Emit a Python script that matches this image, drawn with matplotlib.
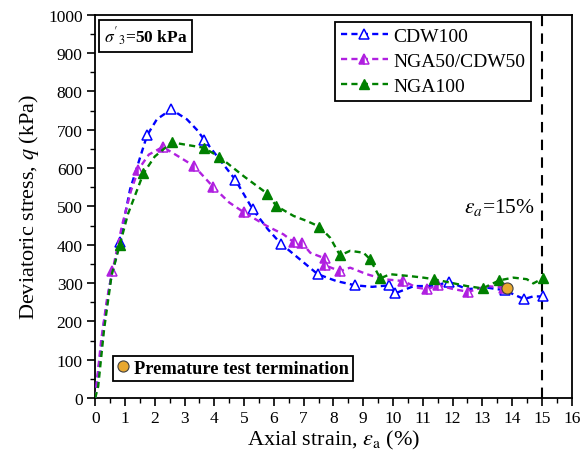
import matplotlib
matplotlib.use("Agg")
import matplotlib.pyplot as plt
from matplotlib.ticker import MultipleLocator

plt.rcParams['font.family'] = ['Liberation Serif', 'DejaVu Serif']
plt.rcParams['mathtext.fontset'] = 'stix'

# ---- data ----
cdw_x = [0, 0.15, 0.3, 0.5, 0.82, 1.17, 1.74, 2.07, 2.55, 3.08, 3.41, 3.67, 4.2, 4.70, 5.29, 5.8, 6.23,
         6.9, 7.47, 8.1, 8.73, 9.3, 9.88, 10.07, 10.7, 11.35, 11.89, 12.48, 13.15, 13.76, 14.03, 14.40, 14.7, 15.02]
cdw_q = [0, 100, 200, 300, 407, 544, 685, 727, 753, 727, 700, 673, 620, 570, 492, 440, 403,
         360, 323, 305, 294, 290, 294, 273, 292, 292, 303, 284, 288, 281, 271, 258, 265, 265]
cdw_mark = [4, 6, 8, 11, 13, 14, 16, 18, 20, 22, 23, 26, 29, 31, 33]

mix_x = [0, 0.2, 0.4, 0.58, 0.9, 1.2, 1.45, 1.8, 2.27, 2.8, 3.32, 3.97, 4.5, 5.0, 5.76, 6.32, 6.66, 6.94,
         7.22, 7.72, 7.72, 8.22, 8.56, 9.12, 9.68, 10.35, 10.8, 11.13, 11.52, 12.03, 12.53, 13.15, 13.73]
mix_q = [0, 150, 260, 331, 450, 540, 596, 635, 655, 630, 605, 550, 510, 484, 449, 427, 407, 405,
         379, 364, 346, 331, 340, 323, 310, 305, 288, 284, 294, 284, 277, 292, 288]
mix_mark = [3, 6, 8, 10, 11, 13, 16, 17, 19, 20, 21, 25, 27, 28, 30, 32]

nga_x = [0, 0.1, 0.3, 0.55, 0.82, 1.1, 1.62, 2.0, 2.57, 3.1, 3.64, 4.17, 4.98, 5.78, 6.08, 6.66, 7.1,
         7.53, 7.89, 8.22, 8.56, 9.01, 9.23, 9.57, 9.9, 10.57, 11.02, 11.36, 11.92, 12.48, 13.01, 13.57,
         14.04, 14.49, 14.71, 15.03]
nga_q = [0, 30, 180, 320, 398, 480, 586, 630, 667, 660, 653, 629, 579, 533, 501, 475, 462,
         447, 418, 372, 384, 379, 362, 312, 323, 318, 314, 310, 301, 292, 286, 307,
         314, 310, 299, 312]
nga_mark = [4, 6, 8, 10, 11, 13, 14, 17, 19, 22, 23, 27, 30, 31, 35]

term_x = [13.82]
term_q = [288]

limit_strain = 15

fig = plt.figure(figsize=(5.84, 4.56), dpi=100)
ax = fig.add_axes([0.163, 0.125, 0.816, 0.8406])

ms = 7.8
dash = (0, (2.6, 1.8))
ax.plot(cdw_x, cdw_q, linestyle=dash, color='#0000FF', lw=1.7, marker='^', markevery=cdw_mark,
        markersize=ms, markerfacecolor='white', markeredgecolor='#0000FF', markeredgewidth=1.1,
        label='CDW100', zorder=3)
ax.plot(mix_x, mix_q, linestyle=dash, color='#B020E0', lw=1.7, marker='^', markevery=mix_mark,
        markersize=ms, fillstyle='left', markerfacecolor='#B020E0', markerfacecoloralt='white',
        markeredgecolor='#B020E0', markeredgewidth=1.1, label='NGA50/CDW50', zorder=3)
ax.plot(nga_x, nga_q, linestyle=dash, color='#008000', lw=1.7, marker='^', markevery=nga_mark,
        markersize=ms, markerfacecolor='#008000', markeredgecolor='#008000',
        label='NGA100', zorder=3)
term = ax.plot(term_x, term_q, linestyle='none', marker='o', markersize=8,
               markerfacecolor='#E8A830', markeredgecolor='#404040', markeredgewidth=0.8, zorder=5)

ax.axvline(limit_strain, color='black', linestyle=(0, (5, 3.5)), lw=1.5, zorder=2)
ax.text(14.78, 500, r"$\varepsilon_a$=15%", ha='right', va='center', fontsize=15.5)

ax.set_xlim(0, 16)
ax.set_ylim(0, 1000)
ax.xaxis.set_major_locator(MultipleLocator(1))
ax.xaxis.set_minor_locator(MultipleLocator(0.5))
ax.yaxis.set_major_locator(MultipleLocator(100))
ax.yaxis.set_minor_locator(MultipleLocator(50))
ax.tick_params(which='major', direction='out', length=6, width=1.2, labelsize=12.5, pad=3)
ax.tick_params(which='minor', direction='out', length=3.5, width=1.0)
for s in ax.spines.values():
    s.set_linewidth(1.3)

ax.set_xlabel(r"Axial strain, $\varepsilon_{\mathrm{a}}$ (%)", fontsize=16, labelpad=1)
ax.set_ylabel(r"Deviatoric stress, $q$ (kPa)", fontsize=16, labelpad=5)

leg = ax.legend(loc='upper right', bbox_to_anchor=(0.915, 0.982), borderaxespad=0, fontsize=14,
                handlelength=2.4, labelspacing=0.38, handletextpad=0.3, borderpad=0.3,
                fancybox=False, framealpha=1, edgecolor='black')
leg.get_frame().set_linewidth(1.3)
ax.add_artist(leg)

leg2 = ax.legend(term, ['Premature test termination'], loc='lower left', bbox_to_anchor=(0.038, 0.045),
                 borderaxespad=0, prop={'weight': 'bold', 'size': 13.2}, handlelength=0.6,
                 handletextpad=0.3, borderpad=0.22, fancybox=False, framealpha=1, edgecolor='black')
leg2.get_frame().set_linewidth(1.3)

ax.text(0.018, 0.973, r"$\sigma'_3$=50 kPa", transform=ax.transAxes, ha='left', va='top',
        fontsize=12.5, fontweight='bold',
        bbox=dict(boxstyle='square,pad=0.28', facecolor='white', edgecolor='black', linewidth=1.3))

fig.savefig('out.png', dpi=100)
